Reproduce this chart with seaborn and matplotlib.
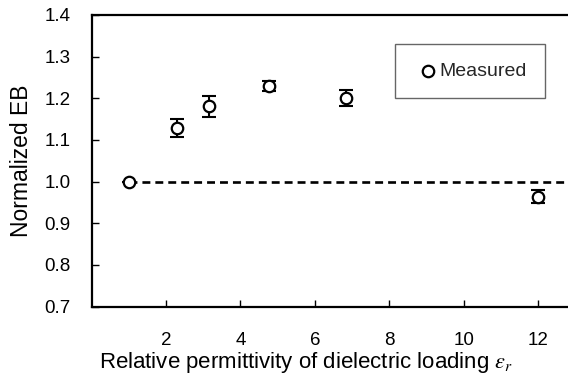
import numpy as np
import pandas as pd
import matplotlib
matplotlib.use("Agg")
import matplotlib.pyplot as plt
import seaborn as sns

# measured points
eps_r = [1.0, 2.30, 3.16, 4.76, 6.84, 12.0]
norm_eb = [1.000, 1.128, 1.181, 1.230, 1.200, 0.964]
eb_err = [0.0, 0.022, 0.025, 0.012, 0.019, 0.016]
ref_level = 1.0
x_ticks = [2, 4, 6, 8, 10, 12]
y_ticks = [0.7, 0.8, 0.9, 1.0, 1.1, 1.2, 1.3, 1.4]

df = pd.DataFrame({"eps": eps_r, "eb": norm_eb, "err": eb_err})

sns.set_theme(style="white")
plt.rcParams["font.family"] = ["Liberation Sans", "DejaVu Sans"]
plt.rcParams["mathtext.fontset"] = "stix"

fig = plt.figure(figsize=(5.68, 3.8), dpi=100)
ax = fig.add_axes([0.1613, 0.193, 0.8514, 0.768])
x_max = 13

# reference line at 1.0
ax.plot([eps_r[0], x_max], [ref_level, ref_level], color="black", lw=1.9,
        linestyle=(0, (3.0, 1.9)), zorder=1)

ax.errorbar(df["eps"], df["eb"], yerr=df["err"], fmt="none", ecolor="black",
            elinewidth=1.5, capsize=5, capthick=1.5, zorder=2)
sns.scatterplot(data=df, x="eps", y="eb", ax=ax, marker="o", s=68,
                facecolors="white", edgecolor="black", linewidth=1.6,
                label="Measured", zorder=3)

ax.set_xlim(0, x_max)
ax.set_ylim(0.7, 1.4)
ax.set_xticks(x_ticks)
ax.set_yticks(y_ticks)
ax.set_yticklabels([f"{v:.1f}" for v in y_ticks])
ax.tick_params(axis="x", direction="in", length=5, width=1, labelsize=13.5,
               pad=18, bottom=True, colors="black")
ax.tick_params(axis="y", direction="in", length=5, width=1, labelsize=13.5,
               pad=15, left=True, colors="black")
for s in ax.spines.values():
    s.set_linewidth(1.6)
    s.set_color("black")

ax.set_xlabel(r"Relative permittivity of dielectric loading $\varepsilon_r$",
              fontsize=16, color="black")
ax.xaxis.set_label_coords(0.444, -0.147, transform=ax.transAxes)
ax.xaxis.label.set_verticalalignment("top")
ax.set_ylabel("Normalized EB", fontsize=16.5, labelpad=8, color="black")

leg = ax.legend(loc="center", bbox_to_anchor=(0.621, 0.711, 0.323, 0.194),
                frameon=True, fancybox=False, fontsize=14, borderpad=0.95,
                handlelength=1.5, handletextpad=-0.2, borderaxespad=0)
leg.get_frame().set_edgecolor("#404040")
leg.get_frame().set_linewidth(1.0)

fig.savefig("out.png", dpi=100)
